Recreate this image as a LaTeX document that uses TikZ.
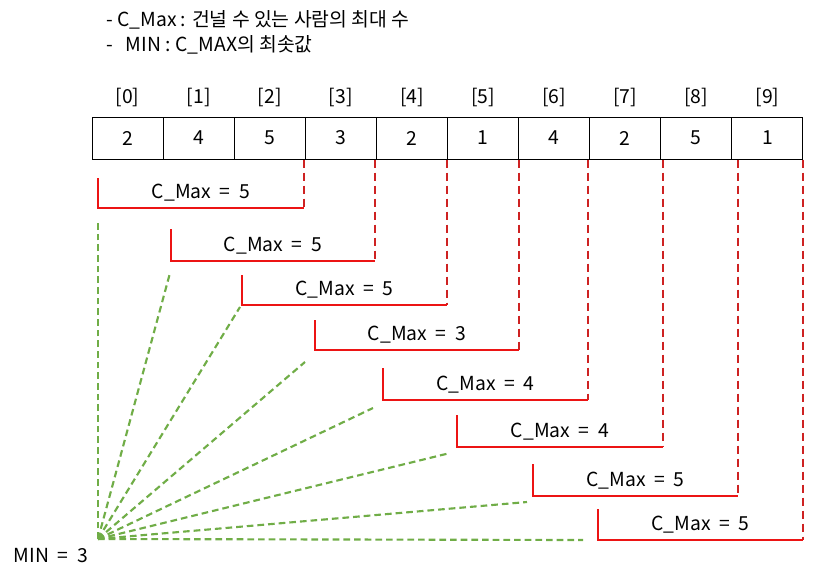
\documentclass[tikz,border=0pt]{standalone}
\usepackage{fontspec}
\setmainfont{Noto Sans CJK KR}
\definecolor{redA}{RGB}{236,20,20}
\definecolor{redB}{RGB}{206,34,34}
\definecolor{greenA}{RGB}{112,173,71}
\begin{document}
\begin{tikzpicture}[x=0.75pt,y=-0.75pt,
  txt/.style={font=\fontsize{14.5}{17}\selectfont, inner sep=0pt},
  cell/.style={draw=black, line width=0.75pt, minimum width=53.3pt, minimum height=31.5pt, inner sep=0pt, font=\fontsize{14.5}{17}\selectfont},
  redsolid/.style={draw=redA, line width=2.2pt},
  reddash/.style={draw=redB, line width=1.6pt, dash pattern=on 6pt off 3.75pt},
  greendash/.style={draw=greenA, line width=1.6pt, dash pattern=on 5pt off 3pt}
]
\useasboundingbox (0,0) rectangle (816,571);

% legend text
\node[txt, anchor=west] (t1) at (106,20) {- C\_Max : 건널 수 있는 사람의 최대 수};
\node[txt, anchor=west] (t2) at (106,45) {-\ \ \ MIN : C\_MAX의 최솟값};

% array
\foreach \v [count=\i from 0] in {2,4,5,3,2,1,4,2,5,1} {
  \node[cell] (c\i) at ({127.55+71.1*\i},138) {\v};
  \node[txt] (i\i) at ({127.55+71.1*\i},97) {[\i]};
}

% apex
\coordinate (apex) at (98,539);
\node[txt] (min) at (51,556) {MIN\ \ =\ \ 3};

% brackets: left x, top y, bottom y, right x, value, green end x, green end y
\foreach \lx/\ty/\by/\rx/\val/\gx/\gy [count=\k from 0] in {
  98/178/208/304/5/98/220,
  171/229/261/375/5/170/273,
  242/275/305/447/5/240/307,
  315/320/350/519/3/305/362,
  383/368/400/588/4/373/408,
  457/415/447/663/4/450/453,
  533/464/496/738/5/527/502,
  598/509/540/803/5/583/540} {
  \coordinate (tl\k) at (\lx,\ty);
  \coordinate (bl\k) at (\lx,\by);
  \coordinate (br\k) at (\rx,\by);
  \coordinate (g\k) at (\gx,\gy);
  \draw[greendash] (apex) -- (g\k);
  \draw[reddash] (br\k |- c0.south) -- (br\k);
  \draw[redsolid] (tl\k) -- (bl\k) -- (br\k);
  \node[txt] (m\k) at ({(\lx+\rx)/2},{\by-15}) {C\_Max\ \ =\ \ \val};
}
\end{tikzpicture}
\end{document}
